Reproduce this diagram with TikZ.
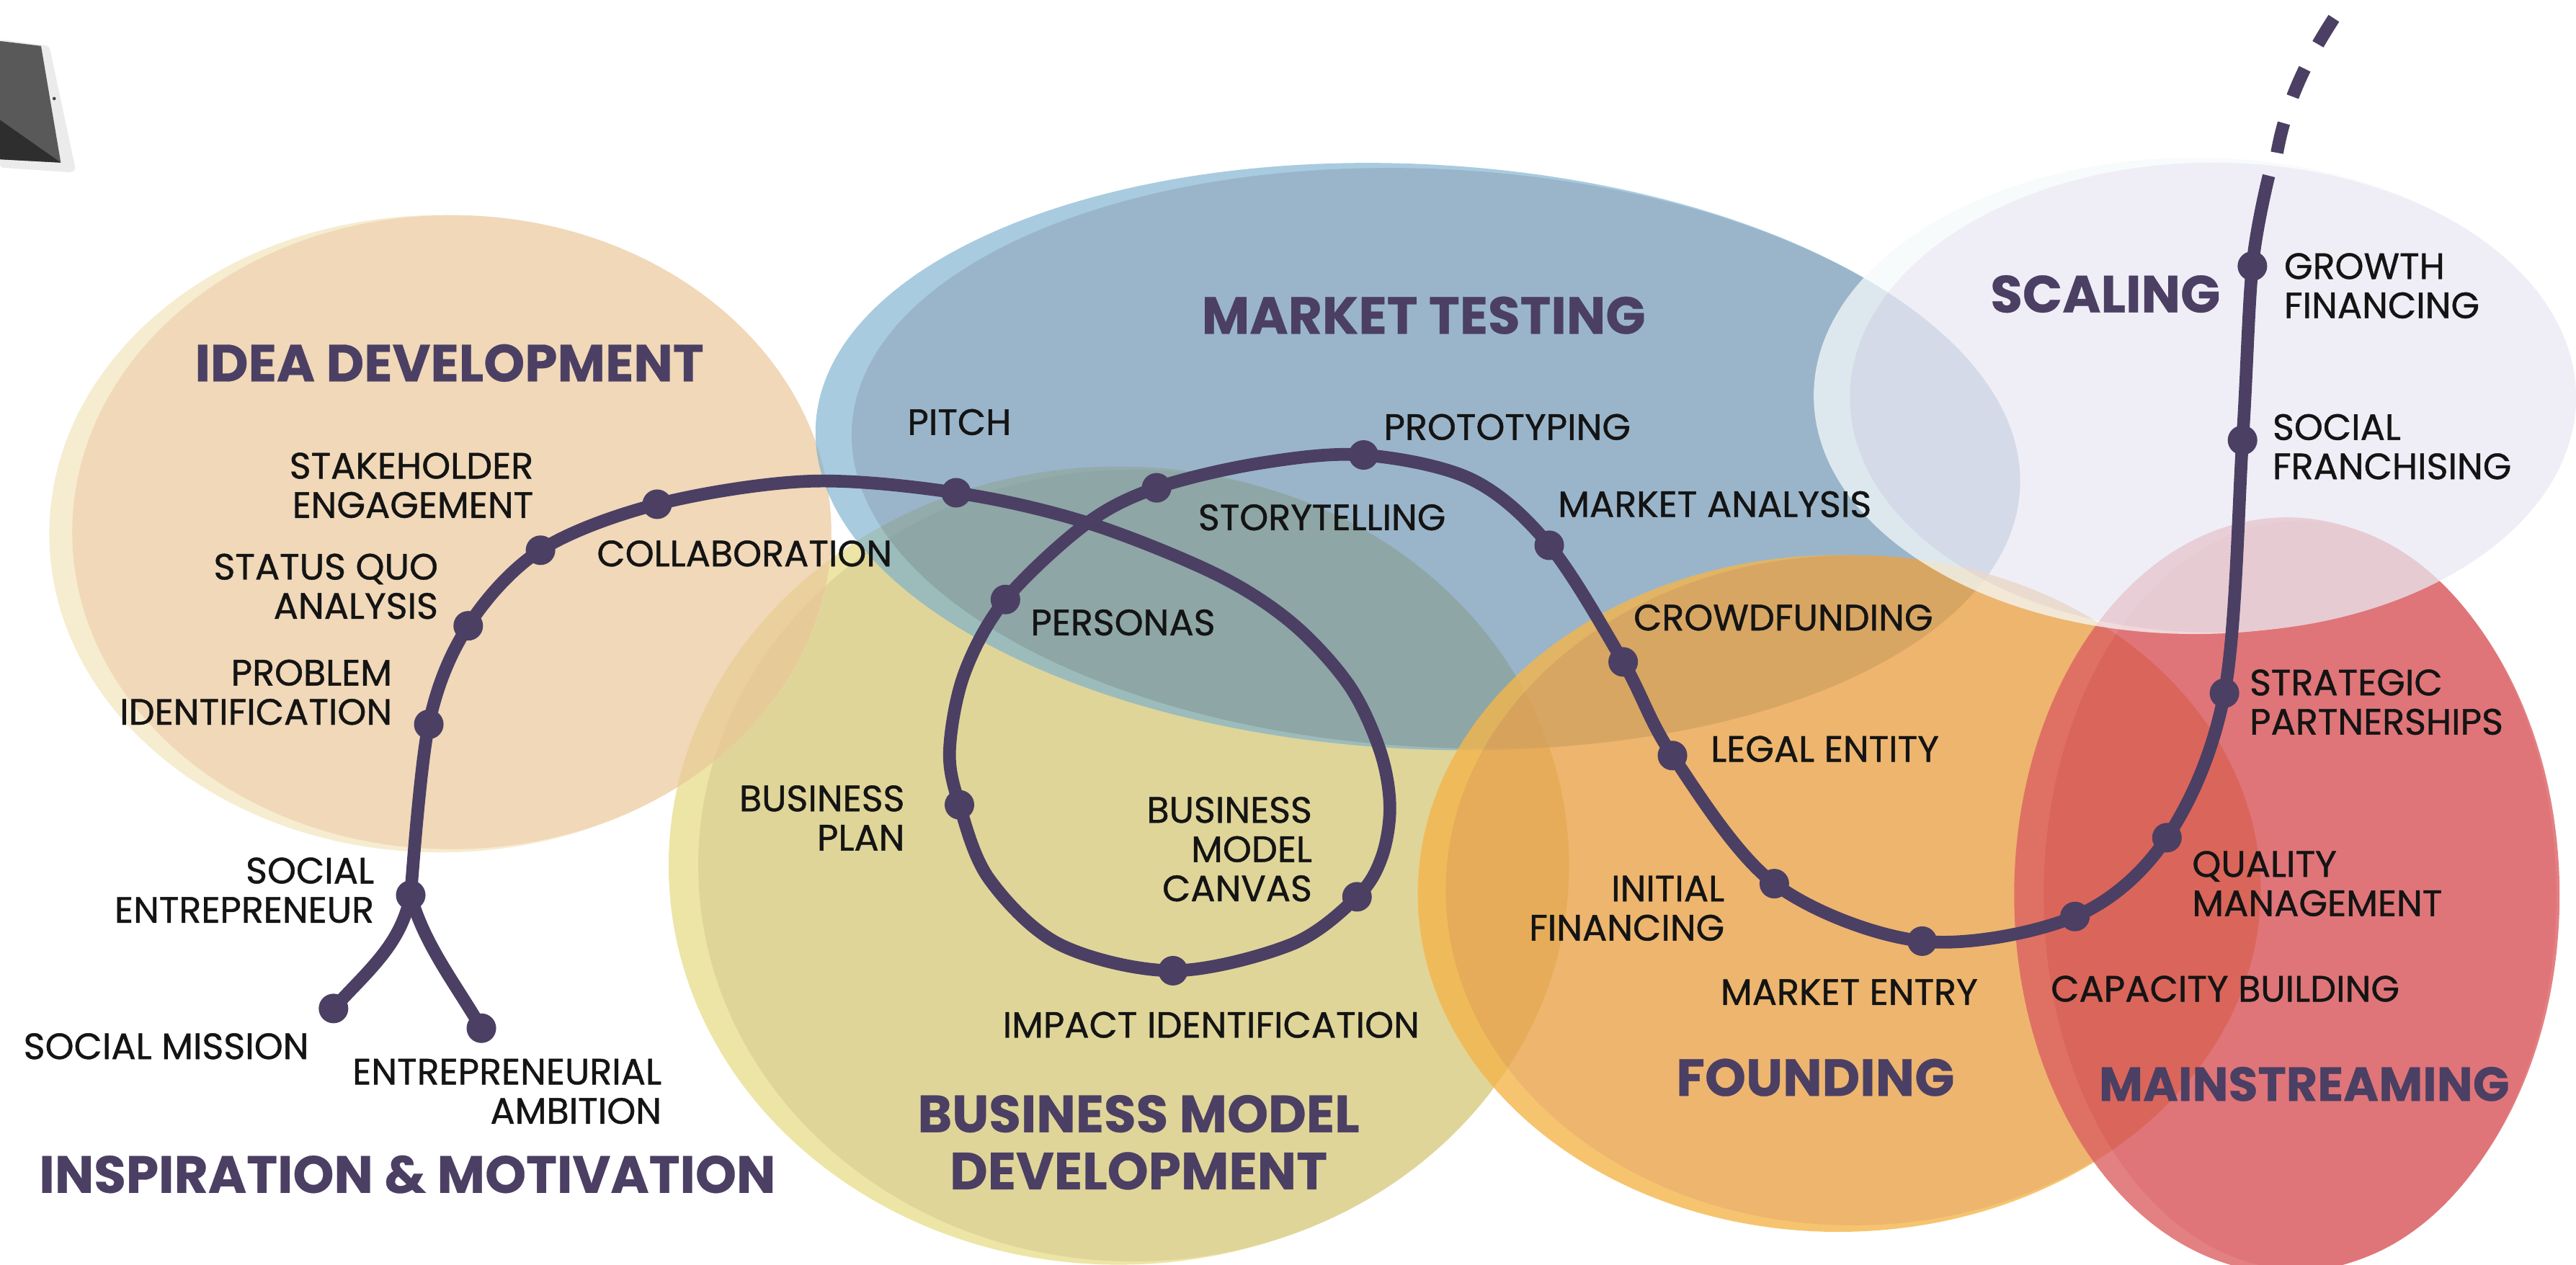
\documentclass[tikz,border=0pt]{standalone}
\usepackage{fontspec}
\setmainfont{Poppins}
\newfontfamily\stagefont[FakeBold=0.4]{Poppins Bold}
\newfontfamily\stepfont[FakeBold=0.9]{Poppins}
\usetikzlibrary{positioning}
\definecolor{ink}{HTML}{4B3F63}

\begin{document}
\begin{tikzpicture}[x=0.02cm,y=-0.02cm]
	\tikzset{region/.style={transparency group,opacity=#1}}
	\tikzset{stepdot/.style={circle,fill=ink,inner sep=0pt,minimum size=0.36cm}}
	\tikzset{journey/.style={draw=ink,line width=0.155cm}}
	\tikzset{steplabel/.style={font=\stepfont\fontsize{12.7}{13.6}\selectfont,text=black!92,align=#1,inner sep=0pt}}
	\tikzset{stagelabel/.style={font=\stagefont\fontsize{18.1}{19.8}\selectfont,text=ink,align=center,inner sep=0pt}}
	\useasboundingbox (0,0) rectangle (1568,770);

	%% Draw tablet
	\fill[black!8,rounded corners=1pt] (0,24) -- (30,28) -- (46,103) -- (44,105) -- (0,102) -- cycle;
	\fill[black!65] (0,25) -- (25,28) -- (37,99) -- (0,97) -- cycle;
	\fill[black!82] (0,73) -- (37,99) -- (0,97) -- cycle;
	\fill[black!75] (33,60) circle (1);

	%% Draw regions
	\begin{scope}
		\definecolor{pale}{HTML}{EDE5A5}
		\definecolor{deep}{HTML}{DFD599}
		\fill[pale] (681,527) ellipse [x radius=274,y radius=243];
		\fill[deep] (690,527) ellipse [x radius=265,y radius=241];
	\end{scope}
	\begin{scope}[region=.7]
		\definecolor{pale}{HTML}{F2E4BA}
		\definecolor{deep}{HTML}{EAC89A}
		\fill[pale] (268,325) ellipse [x radius=238,y radius=194];
		\fill[deep] (275,324) ellipse [x radius=231,y radius=193];
	\end{scope}
	\begin{scope}[region=.65]
		\definecolor{pale}{HTML}{79AFCE}
		\definecolor{deep}{HTML}{648DAE}
		\fill[pale] (863,278) ellipse [x radius=367,y radius=178,rotate=-3];
		\fill[deep] (874,279) ellipse [x radius=356,y radius=176,rotate=-3];
	\end{scope}
	\begin{scope}[region=.8]
		\definecolor{pale}{HTML}{F4B54B}
		\definecolor{deep}{HTML}{E8A24A}
		\fill[pale] (1119,544) ellipse [x radius=256,y radius=206];
		\fill[deep] (1128,542) ellipse [x radius=248,y radius=204];
	\end{scope}
	\begin{scope}[region=.8]
		\definecolor{pale}{HTML}{DC6063}
		\definecolor{deep}{HTML}{D75256}
		\fill[pale] (1392,545) ellipse [x radius=166,y radius=230];
		\fill[deep] (1400,545) ellipse [x radius=156,y radius=228];
	\end{scope}
	\begin{scope}[region=.75]
		\definecolor{pale}{HTML}{F5FAFA}
		\definecolor{deep}{HTML}{EAE8F3}
		\fill[pale] (1336,241) ellipse [x radius=232,y radius=145];
		\fill[deep] (1347,242) ellipse [x radius=221,y radius=143];
	\end{scope}

	%% Draw steps
	\foreach \name/\x/\y in {mission/203/614,ambition/293/626,entrepreneur/250/545,
			problem/261/441,quo/285/381,stakeholder/329/335,collaboration/400/307,
			pitch/582/300,canvas/826/546,impact/714/591,plan/584/490,personas/612/365,
			storytelling/704/297,prototyping/830/277,analysis/943/332,crowdfunding/988/403,
			legal/1018/460,initial/1080/538,entry/1170/573,capacity/1263/558,
			quality/1319/510,strategic/1354/422,franchising/1365/268,growth/1371/162}
		\node[stepdot] (\name) at (\x,\y) {};

	\foreach \name/\x/\y in {c0/492/293,c1/661/318,c2/739/349,c3/786/379,c4/821/417,c5/840/457,
			c6/846/491,c15/841/522,c7/786/575,c8/645/575,c9/602/535,c10/578/457,c11/587/410,c12/661/319,
			c13/767/282,c14/896/292}
		\coordinate (\name) at (\x,\y);
	\coordinate (lineEnd) at (1381,107);
	\coordinate (dashStart) at (1386,93);
	\coordinate (dashEnd) at (1422,9);

	\draw[journey] plot[smooth,tension=0.55] coordinates {(entrepreneur.center) (problem.center) (quo.center)
		(stakeholder.center) (collaboration.center) (c0) (pitch.center) (c1) (c2) (c3) (c4) (c5) (c6) (c15)
		(canvas.center) (c7) (impact.center) (c8) (c9) (plan.center) (c10) (c11) (personas.center) (c12)
		(storytelling.center) (c13) (prototyping.center) (c14) (analysis.center) (crowdfunding.center)
		(legal.center) (initial.center) (entry.center) (capacity.center) (quality.center)
		(strategic.center) (franchising.center) (growth.center) (lineEnd)};
	\draw[journey] (entrepreneur.center) .. controls (244,575) and (225,590) .. (mission.center);
	\draw[journey] (entrepreneur.center) .. controls (258,575) and (278,600) .. (ambition.center);
	\draw[journey,dash pattern=on 0.37cm off 0.34cm] (dashStart) .. controls (1392,60) and (1405,35) .. (dashEnd);

	%% Draw step labels
	\node[steplabel=right,anchor=east] (stakeholderL) at (325,295.5) {STAKEHOLDER\\ENGAGEMENT};
	\node[steplabel=right,anchor=east] (quoL) at (267,357) {STATUS QUO\\ANALYSIS};
	\node[steplabel=right,anchor=east] (problemL) at (239,421.5) {PROBLEM\\IDENTIFICATION};
	\node[steplabel=right,anchor=east] (entrepreneurL) at (228,542) {SOCIAL\\ENTREPRENEUR};
	\node[steplabel=left,anchor=west] (missionL) at (14,637) {SOCIAL MISSION};
	\node[steplabel=right,anchor=east] (ambitionL) at (403,664.5) {ENTREPRENEURIAL\\AMBITION};
	\node[steplabel=left,anchor=west] (collaborationL) at (363,337) {COLLABORATION};
	\node[steplabel=left,anchor=west] (pitchL) at (552,257) {PITCH};
	\node[steplabel=left,anchor=west] (prototypingL) at (842,260) {PROTOTYPING};
	\node[steplabel=left,anchor=west] (storytellingL) at (729,315) {STORYTELLING};
	\node[steplabel=left,anchor=west] (analysisL) at (948,307) {MARKET ANALYSIS};
	\node[steplabel=left,anchor=west] (personasL) at (627,379) {PERSONAS};
	\node[steplabel=left,anchor=west] (crowdfundingL) at (994,376) {CROWDFUNDING};
	\node[steplabel=left,anchor=west] (legalL) at (1041,456) {LEGAL ENTITY};
	\node[steplabel=right,anchor=east] (planL) at (551,498) {BUSINESS\\PLAN};
	\node[steplabel=right,anchor=east] (canvasL) at (799,517) {BUSINESS\\MODEL\\CANVAS};
	\node[steplabel=left,anchor=west] (impactL) at (610,624) {IMPACT IDENTIFICATION};
	\node[steplabel=right,anchor=east] (initialL) at (1050,553) {INITIAL\\FINANCING};
	\node[steplabel=left,anchor=west] (entryL) at (1047,604) {MARKET ENTRY};
	\node[steplabel=left,anchor=west] (capacityL) at (1248,602) {CAPACITY BUILDING};
	\node[steplabel=left,anchor=west] (qualityL) at (1334,538) {QUALITY\\MANAGEMENT};
	\node[steplabel=left,anchor=west] (strategicL) at (1369,427.5) {STRATEGIC\\PARTNERSHIPS};
	\node[steplabel=left,anchor=west] (growthL) at (1390,174) {GROWTH\\FINANCING};
	\node[steplabel=left,anchor=west] (franchisingL) at (1383,272) {SOCIAL\\FRANCHISING};

	%% Draw stage labels
	\node[stagelabel] (ideaS) at (273.5,221) {IDEA DEVELOPMENT};
	\node[stagelabel] (testingS) at (866.5,192) {MARKET TESTING};
	\node[stagelabel] (scalingS) at (1281.5,179) {SCALING};
	\node[stagelabel] (businessS) at (693,695.5) {BUSINESS MODEL\\DEVELOPMENT};
	\node[stagelabel] (foundingS) at (1105,656) {FOUNDING};
	\node[stagelabel,font=\stagefont\fontsize{16.6}{19.8}\selectfont] (mainstreamS) at (1402.5,660) {MAINSTREAMING};
	\node[stagelabel] (inspirationS) at (248,715) {INSPIRATION \& MOTIVATION};
\end{tikzpicture}
\end{document}
